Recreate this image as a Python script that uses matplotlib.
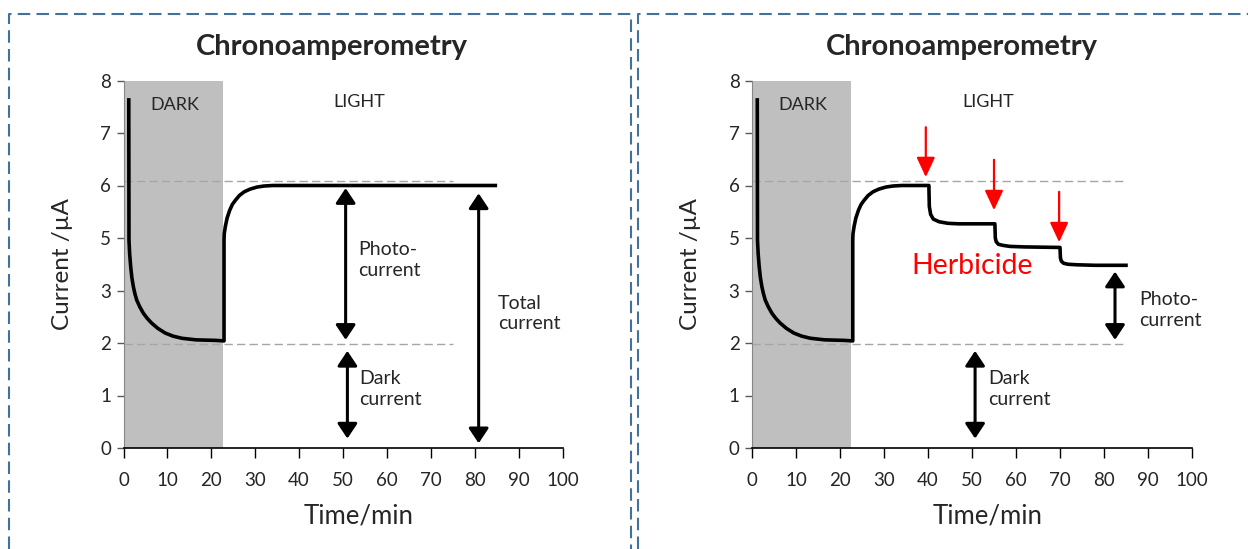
import matplotlib

matplotlib.use("Agg")
import matplotlib.pyplot as plt
from matplotlib.lines import Line2D

plt.rcParams["font.family"] = ["Lato", "DejaVu Sans"]

# y axis: 8 evenly spaced ticks, the source labels skip "4"
y_tick_pos = [0, 1, 2, 3, 4, 5, 6, 7]
y_tick_labels = ["0", "1", "2", "3", "5", "6", "7", "8"]
x_ticks = [0, 10, 20, 30, 40, 50, 60, 70, 80, 90, 100]

dark_end = 22.6

# current trace (y in tick-position units)
t_dark = [1.2, 1.25, 1.4, 1.64, 1.9, 2.25, 2.6, 3.0, 3.7, 4.5, 5.4, 6.4, 7.8, 9.5,
          11.3, 13.3, 16.5, 20.9, 22.9]
i_dark = [6.63, 3.96, 3.7, 3.45, 3.25, 3.07, 2.94, 2.82, 2.69, 2.57, 2.47, 2.38, 2.28, 2.19,
          2.13, 2.09, 2.06, 2.05, 2.04]
t_rise = [22.9, 22.95, 23.2, 23.6, 24.2, 24.8, 25.5, 26.4, 27.5, 28.8, 30.4, 32.0, 34.0, 40.2]
i_rise = [3.96, 4.08, 4.22, 4.38, 4.53, 4.64, 4.72, 4.81, 4.88, 4.93, 4.97, 4.99, 5.0, 5.0]
t_flat = [84.7]
i_flat = [5.0]
t_herb = [40.3, 40.6, 41.2, 42.5, 44.5, 47.0, 55.2,
          55.3, 55.5, 56.0, 57.0, 58.6, 62.0, 70.0,
          70.1, 70.3, 70.8, 71.8, 73.8, 78.0, 85.0]
i_herb = [4.6, 4.45, 4.36, 4.31, 4.28, 4.27, 4.27,
          4.0, 3.93, 3.88, 3.86, 3.84, 3.83, 3.82,
          3.62, 3.56, 3.52, 3.5, 3.49, 3.48, 3.48]

ref_top, ref_bottom = 5.09, 1.98
herb_arrows_t = [39.5, 55.0, 69.8]
herb_arrows_top = [6.11, 5.49, 4.88]
herb_arrows_tip = [5.16, 4.53, 3.92]

TXT = "#262626"
W, H = 1248, 549


def fx(px):
    return px / W


def fy(py):
    return 1 - py / H


def dbl_arrow(ax, x, y0, y1, color="black"):
    ax.annotate("", xy=(x, y1), xytext=(x, y0),
                arrowprops=dict(arrowstyle="<|-|>,head_length=0.45,head_width=0.3",
                                color=color, lw=2.2, shrinkA=0, shrinkB=0,
                                mutation_scale=20))


def setup_axes(ax, ref_end):
    ax.axvspan(0, dark_end, color="#BFBFBF", lw=0, zorder=0)
    ax.plot([0, ref_end], [ref_top, ref_top], color="#A6A6A6", lw=1, ls=(0, (6, 3)))
    ax.plot([0, ref_end], [ref_bottom, ref_bottom], color="#A6A6A6", lw=1, ls=(0, (6, 3)))
    ax.set_xlim(0, 100)
    ax.set_ylim(0, 7)
    ax.set_xticks(x_ticks)
    ax.set_yticks(y_tick_pos)
    ax.set_yticklabels(y_tick_labels)
    ax.tick_params(axis="x", direction="out", length=7, width=1, colors="black",
                   labelcolor=TXT, labelsize=13.5, pad=10)
    ax.tick_params(axis="y", direction="out", length=5, width=1, colors="#595959",
                   labelcolor=TXT, labelsize=13.5, pad=4)
    for side in ["top", "right"]:
        ax.spines[side].set_visible(False)
    ax.spines["left"].set_color("#868686")
    ax.spines["bottom"].set_color("black")
    ax.spines["bottom"].set_linewidth(1.2)
    ax.set_xlabel("Time/min", fontsize=18.5, color=TXT)
    ax.set_ylabel("Current /\u00b5A", fontsize=17.5, color=TXT)
    ax.xaxis.set_label_coords(0.535, -0.15)
    ax.yaxis.set_label_coords(-0.115, 0.5)
    ax.text(11.6, 6.53, "DARK", ha="center", va="center", fontsize=13, color=TXT)
    ax.text(53.6, 6.59, "LIGHT", ha="center", va="center", fontsize=13, color=TXT)


fig = plt.figure(figsize=(W / 100, H / 100), dpi=100)
ax1 = fig.add_axes([fx(123.5), fy(448), fx(562.5) - fx(123.5), fy(80.5) - fy(448)])
ax2 = fig.add_axes([fx(752), fy(448), fx(1192) - fx(752), fy(80.5) - fy(448)])

# left panel
setup_axes(ax1, 75)
ax1.plot(t_dark + t_rise + t_flat, i_dark + i_rise + i_flat, color="black", lw=2.6,
         solid_joinstyle="round")
dbl_arrow(ax1, 50.6, 4.95, 2.06)
dbl_arrow(ax1, 51.0, 1.85, 0.18)
dbl_arrow(ax1, 80.9, 4.85, 0.09)
ax1.text(53.5, 3.58, "Photo-\ncurrent", ha="left", va="center", fontsize=14, color=TXT,
         linespacing=1.25)
ax1.text(53.7, 1.12, "Dark\ncurrent", ha="left", va="center", fontsize=14, color=TXT,
         linespacing=1.25)
ax1.text(85.3, 2.56, "Total\ncurrent", ha="left", va="center", fontsize=14, color=TXT,
         linespacing=1.25)

# right panel
setup_axes(ax2, 84.5)
ax2.plot(t_dark + t_rise + t_herb, i_dark + i_rise + i_herb, color="black", lw=2.6,
         solid_joinstyle="round")
for t, y0, y1 in zip(herb_arrows_t, herb_arrows_top, herb_arrows_tip):
    ax2.annotate("", xy=(t, y1), xytext=(t, y0),
                 arrowprops=dict(arrowstyle="-|>,head_length=0.6,head_width=0.28",
                                 color="#FF0000", lw=1.6, shrinkA=0, shrinkB=0,
                                 mutation_scale=20))
ax2.text(50.0, 3.47, "Herbicide", ha="center", va="center", fontsize=20.5, color="#FF0000")
dbl_arrow(ax2, 82.5, 3.36, 2.06)
dbl_arrow(ax2, 50.7, 1.85, 0.18)
ax2.text(88.0, 2.63, "Photo-\ncurrent", ha="left", va="center", fontsize=14, color=TXT,
         linespacing=1.25)
ax2.text(53.7, 1.12, "Dark\ncurrent", ha="left", va="center", fontsize=14, color=TXT,
         linespacing=1.25)

# panel titles
for cx in [332, 962]:
    fig.text(fx(cx), fy(47), "Chronoamperometry", ha="center", va="center",
             fontsize=21, fontweight="bold", color=TXT)

# dashed panel borders
border = dict(color="#41719C", lw=1.5, ls=(0, (6, 3)), transform=fig.transFigure)
for xs, ys in [
    ([9, 9, 631, 631], [H, 14, 14, H]),
    ([638, 638, W], [H, 14, 14]),
]:
    fig.add_artist(Line2D([fx(v) for v in xs], [fy(v) for v in ys], **border))

fig.savefig("out.png", dpi=100)
